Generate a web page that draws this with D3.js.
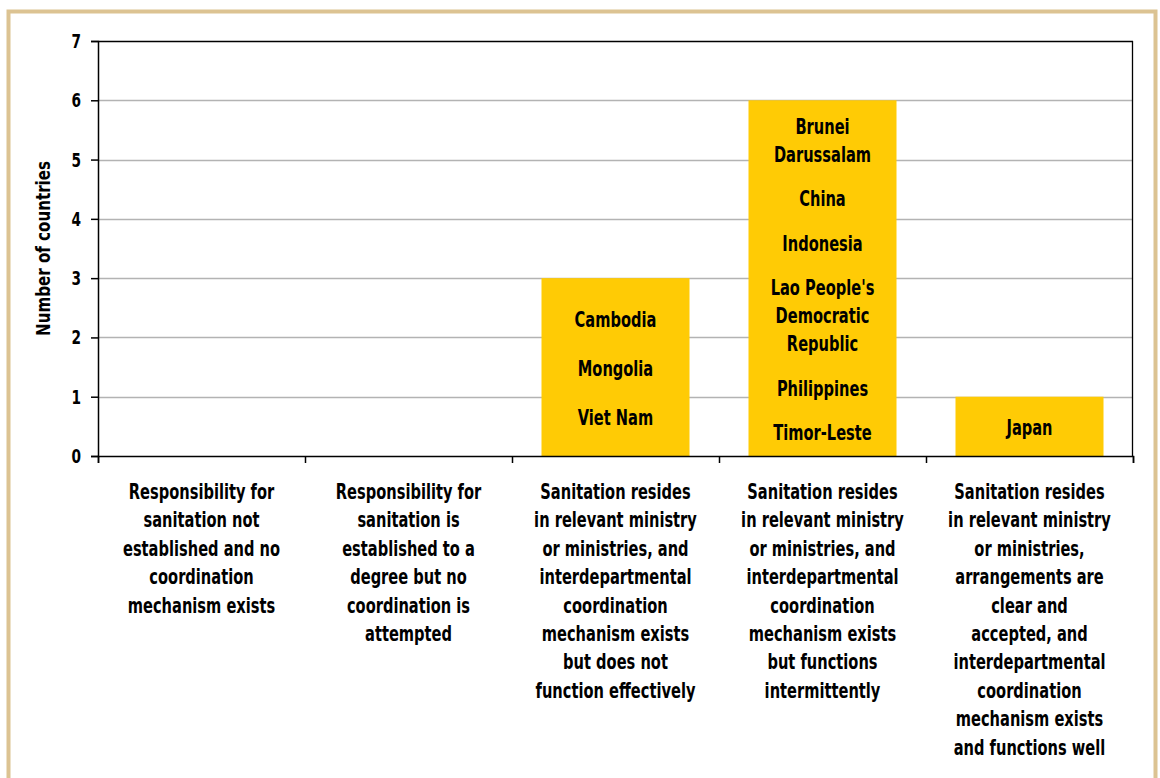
<!DOCTYPE html>
<html><head><meta charset="utf-8">
<script src="https://cdn.jsdelivr.net/npm/d3@7"></script>
<style>
html,body{margin:0;padding:0;background:#fff;}
svg text{font-family:"DejaVu Sans Condensed","DejaVu Sans",sans-serif;font-weight:bold;fill:#000;}
</style></head><body>
<svg id="chart" width="1160" height="778"></svg>
<script>
const categories = [
  ["Responsibility for","sanitation not","established and no","coordination","mechanism exists"],
  ["Responsibility for","sanitation is","established to a","degree but no","coordination is","attempted"],
  ["Sanitation resides","in relevant ministry","or ministries, and","interdepartmental","coordination","mechanism exists","but does not","function effectively"],
  ["Sanitation resides","in relevant ministry","or ministries, and","interdepartmental","coordination","mechanism exists","but functions","intermittently"],
  ["Sanitation resides","in relevant ministry","or ministries,","arrangements are","clear and","accepted, and","interdepartmental","coordination","mechanism exists","and functions well"]
];
const values = [0, 0, 3, 6, 1];
const countries = [
  [],
  [],
  [["Cambodia"],["Mongolia"],["Viet Nam"]],
  [["Brunei","Darussalam"],["China"],["Indonesia"],["Lao People's","Democratic","Republic"],["Philippines"],["Timor-Leste"]],
  [["Japan"]]
];
const yTicks = [0,1,2,3,4,5,6,7];
const yTitle = "Number of countries";

const svg = d3.select("#chart");
const SX = 0.74, FS = 22;
const labelGaps = [0, 0, 21, 16.5, 0];
function label(g, x, y, txt, fs, sx, anchor){
  g.append("g").attr("transform",`translate(${x},${y}) scale(${sx},1)`)
    .append("text").attr("text-anchor",anchor||"middle").attr("font-size",fs).text(txt);
}

// frame
svg.append("path").attr("d","M8.5,790 V11.5 H1155.5 V790")
  .attr("fill","none").attr("stroke","#dcc392").attr("stroke-width",4);

const m = {left:98, right:1133, top:41, bottom:456};
const x = d3.scaleBand().domain(d3.range(values.length)).range([m.left,m.right]).paddingInner(0.285).paddingOuter(0.1425);
const xo = d3.scaleBand().domain(d3.range(values.length)).range([m.left,m.right]);
const y = d3.scaleLinear().domain([0,7]).range([m.bottom,m.top]);

// gridlines
svg.append("g").selectAll("line").data(yTicks.filter(t=>t>0&&t<7)).join("line")
  .attr("x1",m.left).attr("x2",m.right).attr("y1",d=>Math.round(y(d))+0.5).attr("y2",d=>Math.round(y(d))+0.5)
  .attr("stroke","#b3b3b3").attr("stroke-width",1.5);

// bars
svg.append("g").selectAll("rect").data(values).join("rect")
  .attr("x",(d,i)=>x(i)).attr("width",x.bandwidth())
  .attr("y",d=>y(d)).attr("height",d=>y(0)-y(d))
  .attr("fill","#ffcb05");

// plot border
svg.append("line").attr("x1",m.left).attr("x2",m.right).attr("y1",m.top+0.5).attr("y2",m.top+0.5).attr("stroke","#000").attr("stroke-width",1.3);
svg.append("line").attr("x1",m.right-0.5).attr("x2",m.right-0.5).attr("y1",m.top).attr("y2",m.bottom).attr("stroke","#000").attr("stroke-width",1.3);

// axes
const yAxis = svg.append("g").attr("transform",`translate(${m.left},0)`)
  .call(d3.axisLeft(y).tickValues(yTicks).tickFormat("").tickSize(7));
yAxis.select(".domain").attr("stroke","#000").attr("stroke-width",1.5);
yAxis.selectAll(".tick line").attr("stroke","#000").attr("stroke-width",1.5);
const yl = svg.append("g");
yTicks.forEach(t=>label(yl, 81, y(t)+7, String(t), 19, 0.8, "end"));

const xAxis = svg.append("g").attr("transform",`translate(0,${m.bottom})`)
  .call(d3.axisBottom(d3.scaleLinear().domain([0,values.length]).range([m.left,m.right]))
    .tickValues(d3.range(values.length+1)).tickFormat("").tickSize(7));
xAxis.select(".domain").attr("stroke","#000").attr("stroke-width",1.5);
xAxis.selectAll(".tick line").attr("stroke","#000").attr("stroke-width",1.5);

// y title
svg.append("g").attr("transform",`translate(50,${(m.top+m.bottom)/2}) rotate(-90) scale(0.84,1)`)
  .append("text").attr("text-anchor","middle").attr("font-size",20).text(yTitle);

// category labels
const cat = svg.append("g");
categories.forEach((lines,i)=>{
  const cx = xo(i)+xo.bandwidth()/2;
  lines.forEach((l,j)=>label(cat, cx, 499 + j*28.4, l, FS, SX));
});

// country labels inside bars
const lineH = 28;
const cl = svg.append("g");
countries.forEach((list,i)=>{
  if(!list.length) return;
  const gap = labelGaps[i];
  const nLines = d3.sum(list,c=>c.length);
  const total = (nLines-1)*lineH + (list.length-1)*gap;
  const cy = (y(values[i])+y(0))/2;
  let cur = cy - total/2 + 9;
  const cx = x(i)+x.bandwidth()/2;
  list.forEach(c=>{
    c.forEach(l=>{ label(cl, cx, cur, l, FS, SX); cur += lineH; });
    cur += gap;
  });
});
</script>
</body></html>
